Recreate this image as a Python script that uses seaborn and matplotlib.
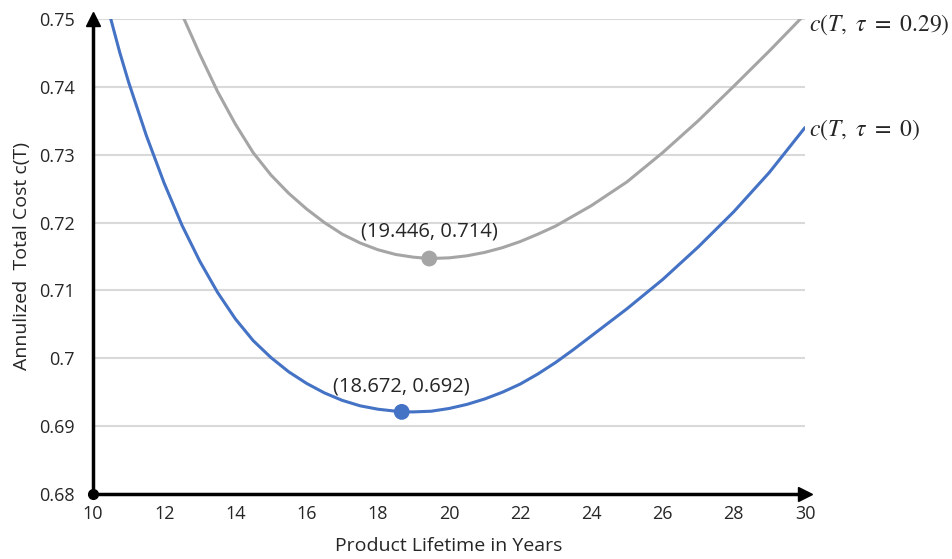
import pandas as pd
import matplotlib.pyplot as plt
import seaborn as sns

# values
years_blue = [10.5, 10.75, 11, 11.5, 12, 12.5, 13, 13.5, 14, 14.5, 15, 15.5, 16, 16.5, 17, 17.5, 18, 18.672,
              19, 19.5, 20, 20.5, 21, 21.5, 22, 22.5, 23, 23.5, 24, 25, 26, 27, 28, 29, 30]
cost_blue = [0.7500, 0.7451, 0.7407, 0.7328, 0.7258, 0.7196, 0.7143, 0.7097, 0.7058, 0.7026, 0.7001,
             0.6980, 0.6963, 0.6949, 0.6938, 0.6930, 0.6925, 0.6921, 0.6921, 0.6922, 0.6926, 0.6932,
             0.6940, 0.6950, 0.6962, 0.6977, 0.6994, 0.7013, 0.7033, 0.7073, 0.7116, 0.7164, 0.7216,
             0.7274, 0.7340]

years_gray = [12.55, 13, 13.5, 14, 14.5, 15, 15.5, 16, 16.5, 17, 17.5, 18, 18.5, 19, 19.446, 20, 20.5,
              21, 21.5, 22, 22.5, 23, 24, 25, 26, 27, 28, 29, 30]
cost_gray = [0.7501, 0.7448, 0.7393, 0.7345, 0.7303, 0.7270, 0.7243, 0.7220, 0.7200, 0.7183, 0.7170,
             0.7160, 0.7153, 0.7149, 0.7147, 0.7148, 0.7151, 0.7156, 0.7163, 0.7172, 0.7183, 0.7195,
             0.7225, 0.7260, 0.7303, 0.7350, 0.7401, 0.7453, 0.7507]

min_x = [18.672, 19.446]
min_y = [0.6921, 0.7147]
min_labels = ['(18.672, 0.692)', '(19.446, 0.714)']
curve_labels = [r'$c(T,\ \tau\ =\ 0)$', r'$c(T,\ \tau\ =\ 0.29)$']

blue = '#4472C4'
gray = '#A5A5A5'

sns.set_style('white')
plt.rcParams['font.family'] = ['Open Sans', 'DejaVu Sans']
plt.rcParams['mathtext.fontset'] = 'stix'

df_blue = pd.DataFrame({'T': years_blue, 'c': cost_blue})
df_gray = pd.DataFrame({'T': years_gray, 'c': cost_gray})
df_min = pd.DataFrame({'T': min_x, 'c': min_y, 'k': ['blue', 'gray']})

fig = plt.figure(figsize=(9.52, 5.59), dpi=100)
ax = fig.add_axes([93 / 952, 1 - 494 / 559, (805 - 93) / 952, (494 - 19) / 559])

sns.lineplot(data=df_gray, x='T', y='c', color=gray, lw=2.2, ax=ax)
sns.lineplot(data=df_blue, x='T', y='c', color=blue, lw=2.2, ax=ax)
sns.scatterplot(data=df_min, x='T', y='c', hue='k', palette={'blue': blue, 'gray': gray},
                s=130, edgecolor='none', legend=False, ax=ax, zorder=5)

ax.set_xlim(10, 30)
ax.set_ylim(0.68, 0.75)
ax.set_xticks(range(10, 31, 2))
yt = [0.68, 0.69, 0.70, 0.71, 0.72, 0.73, 0.74, 0.75]
ax.set_yticks(yt)
ax.set_yticklabels(['0.68', '0.69', '0.7', '0.71', '0.72', '0.73', '0.74', '0.75'])
ax.yaxis.grid(True, color='#d9d9d9', lw=1.5)
ax.set_axisbelow(True)

for s in ['top', 'right']:
    ax.spines[s].set_visible(False)
for s in ['left', 'bottom']:
    ax.spines[s].set_linewidth(2.5)
    ax.spines[s].set_color('black')
ax.tick_params(direction='in', length=5, width=2, labelsize=13, color='black')
ax.tick_params(axis='y', pad=13)
ax.tick_params(axis='x', pad=8)

# arrow heads and origin dot
ax.plot(30, 0.68, '>', color='black', ms=10, clip_on=False, zorder=6)
ax.plot(10, 0.75, '^', color='black', ms=10, clip_on=False, zorder=6)
ax.plot(10, 0.68, 'o', color='black', ms=7, clip_on=False, zorder=6)

ax.text(min_x[0], 0.6943, min_labels[0], ha='center', va='bottom', fontsize=14.5)
ax.text(min_x[1], 0.7172, min_labels[1], ha='center', va='bottom', fontsize=14.5)

ax.text(30.1, 0.7337, curve_labels[0], ha='left', va='center', fontsize=17)
ax.text(30.1, 0.7491, curve_labels[1], ha='left', va='center', fontsize=17)

ax.set_xlabel('Product Lifetime in Years', fontsize=14, labelpad=10)
ax.set_ylabel('Annulized  Total Cost c(T)', fontsize=14, labelpad=6)

fig.savefig('out.png', dpi=100)
